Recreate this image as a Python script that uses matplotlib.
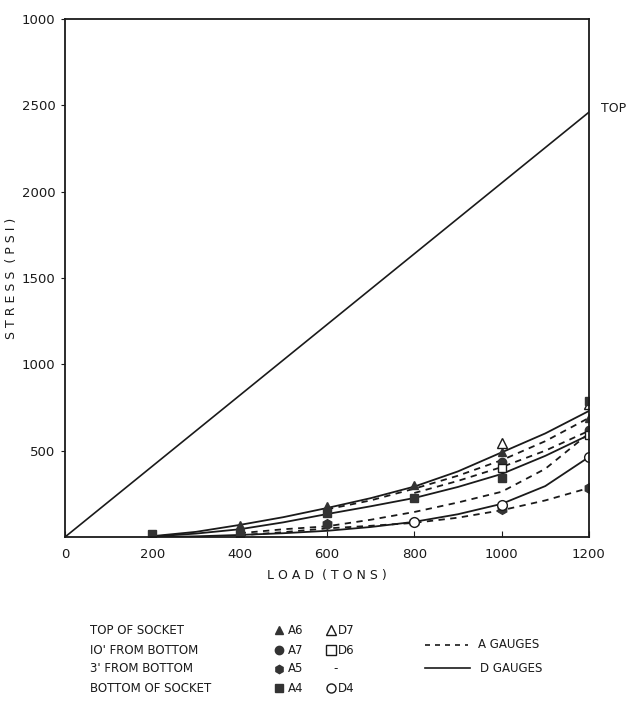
import numpy as np
import matplotlib
matplotlib.use("Agg")
import matplotlib.pyplot as plt
from matplotlib.lines import Line2D

plt.rcParams['font.family'] = ['DejaVu Sans']

# straight "TOP" line
top_load = [0, 1200]
top_stress = [0, 2460]

# fitted curves, read every 100 tons
curve_load = [200, 300, 400, 500, 600, 700, 800, 900, 1000, 1100, 1200]
d7_curve = [5, 30, 70, 115, 168, 225, 292, 380, 490, 600, 730]
d6_curve = [3, 20, 45, 85, 133, 178, 226, 290, 365, 470, 591]
d4_curve = [0, 4, 12, 22, 36, 58, 88, 132, 192, 295, 463]

a6_load = [600, 700, 800, 900, 1000, 1100, 1200]
a6_curve = [160, 212, 280, 355, 445, 555, 690]
a7_load = [800, 900, 1000, 1100, 1200]
a7_curve = [255, 325, 405, 500, 615]
a4_load = [400, 500, 600, 700, 800, 900, 1000, 1100, 1200]
a4_curve = [22, 45, 62, 100, 145, 200, 262, 395, 600]
a5_load = [400, 500, 600, 700, 800, 900, 1000, 1100, 1200]
a5_curve = [10, 28, 50, 65, 82, 112, 155, 212, 284]

# measured points
a6_x = [400, 600, 800, 1000, 1200]
a6_y = [72, 180, 300, 490, 690]
d7_x = [1000, 1200]
d7_y = [545, 770]
a7_x = [1000, 1200]
a7_y = [435, 620]
d6_x = [1000, 1200]
d6_y = [400, 590]
a5_x = [600, 800, 1000, 1200]
a5_y = [75, 85, 160, 284]
a4_x = [200, 400, 600, 800, 1000, 1200]
a4_y = [18, 20, 140, 228, 342, 790]
d4_x = [800, 1000, 1200]
d4_y = [87, 185, 463]

x_ticks = [0, 200, 400, 600, 800, 1000, 1200]
y_ticks = [500, 1000, 1500, 2000, 2500, 3000]
y_tick_labels = ['500', '1000', '1500', '2000', '2500', '1000']

ink = '#1a1a1a'
dash = (0, (3.5, 3))

fig = plt.figure(figsize=(6.29, 7.02), dpi=100)
ax = fig.add_axes([0.1033, 0.235, 0.833, 0.738])

ax.plot(top_load, top_stress, color=ink, lw=1.2)
ax.plot(curve_load, d7_curve, color=ink, lw=1.3)
ax.plot(curve_load, d6_curve, color=ink, lw=1.3)
ax.plot(curve_load, d4_curve, color=ink, lw=1.3)
ax.plot(a6_load, a6_curve, color=ink, lw=1.3, linestyle=dash)
ax.plot(a7_load, a7_curve, color=ink, lw=1.3, linestyle=dash)
ax.plot(a4_load, a4_curve, color=ink, lw=1.3, linestyle=dash)
ax.plot(a5_load, a5_curve, color=ink, lw=1.3, linestyle=dash)

ms = 6
ax.plot(a6_x, a6_y, '^', color='#333333', ms=ms, ls='none')
ax.plot(d7_x, d7_y, '^', mfc='white', mec=ink, ms=ms + 1, ls='none')
ax.plot(a7_x, a7_y, 'o', color='#333333', ms=ms, ls='none')
ax.plot(d6_x, d6_y, 's', mfc='white', mec=ink, ms=ms, ls='none')
ax.plot(a5_x, a5_y, 'h', color='#333333', ms=ms + 1, ls='none')
ax.plot(a4_x, a4_y, 's', color='#333333', ms=ms, ls='none')
ax.plot(d4_x, d4_y, 'o', mfc='white', mec=ink, ms=ms + 1, ls='none')

ax.annotate('TOP', xy=(top_load[-1], top_stress[-1]), xytext=(9, 3),
            textcoords='offset points', fontsize=9, color=ink, va='center')

ax.set_xlim(0, 1200)
ax.set_ylim(0, 3000)
ax.set_xticks(x_ticks)
ax.set_xticklabels([str(v) for v in x_ticks])
ax.set_yticks(y_ticks)
ax.set_yticklabels(y_tick_labels)
ax.tick_params(axis='x', direction='in', length=4, pad=8, labelsize=9.5, colors=ink)
ax.tick_params(axis='y', direction='out', length=3, pad=4, labelsize=9.5, colors=ink)
for s in ax.spines.values():
    s.set_linewidth(1.3)
    s.set_color(ink)

ax.set_xlabel('L O A D  ( T O N S )', fontsize=9, color=ink, labelpad=6)
ax.set_ylabel('S T R E S S  ( P S I )', fontsize=9, color=ink)
ax.yaxis.set_label_coords(-0.09, 0.5)

# key below the chart, laid out in pixel coordinates
key = fig.add_axes([0, 0, 1, 1], facecolor='none')
key.set_xlim(0, 629)
key.set_ylim(702, 0)
key.axis('off')

rows = ['TOP OF SOCKET', "IO' FROM BOTTOM", "3' FROM BOTTOM", 'BOTTOM OF SOCKET']
a_names = ['A6', 'A7', 'A5', 'A4']
a_marks = ['^', 'o', 'h', 's']
d_names = ['D7', 'D6', '', 'D4']
d_marks = ['^', 's', None, 'o']
row_y = [630, 650, 669, 688]

for i, label in enumerate(rows):
    y = row_y[i]
    key.text(90, y, label, fontsize=8.5, va='center', color=ink)
    key.plot([279], [y], a_marks[i], color='#333333', ms=6)
    key.text(288, y, a_names[i], fontsize=8.5, va='center', color=ink)
    if d_marks[i] is None:
        key.text(336, y, '-', fontsize=8.5, va='center', ha='center', color=ink)
    else:
        key.plot([331], [y], d_marks[i], mfc='white', mec=ink, ms=6.5)
        key.text(338, y, d_names[i], fontsize=8.5, va='center', color=ink)

key.add_line(Line2D([425, 468], [645, 645], color=ink, lw=1.2, linestyle=(0, (3, 3))))
key.text(478, 645, 'A GAUGES', fontsize=8.5, va='center', color=ink)
key.add_line(Line2D([425, 470], [668, 668], color=ink, lw=1.2))
key.text(480, 668, 'D GAUGES', fontsize=8.5, va='center', color=ink)

fig.savefig('out.png', dpi=100, facecolor='white')
